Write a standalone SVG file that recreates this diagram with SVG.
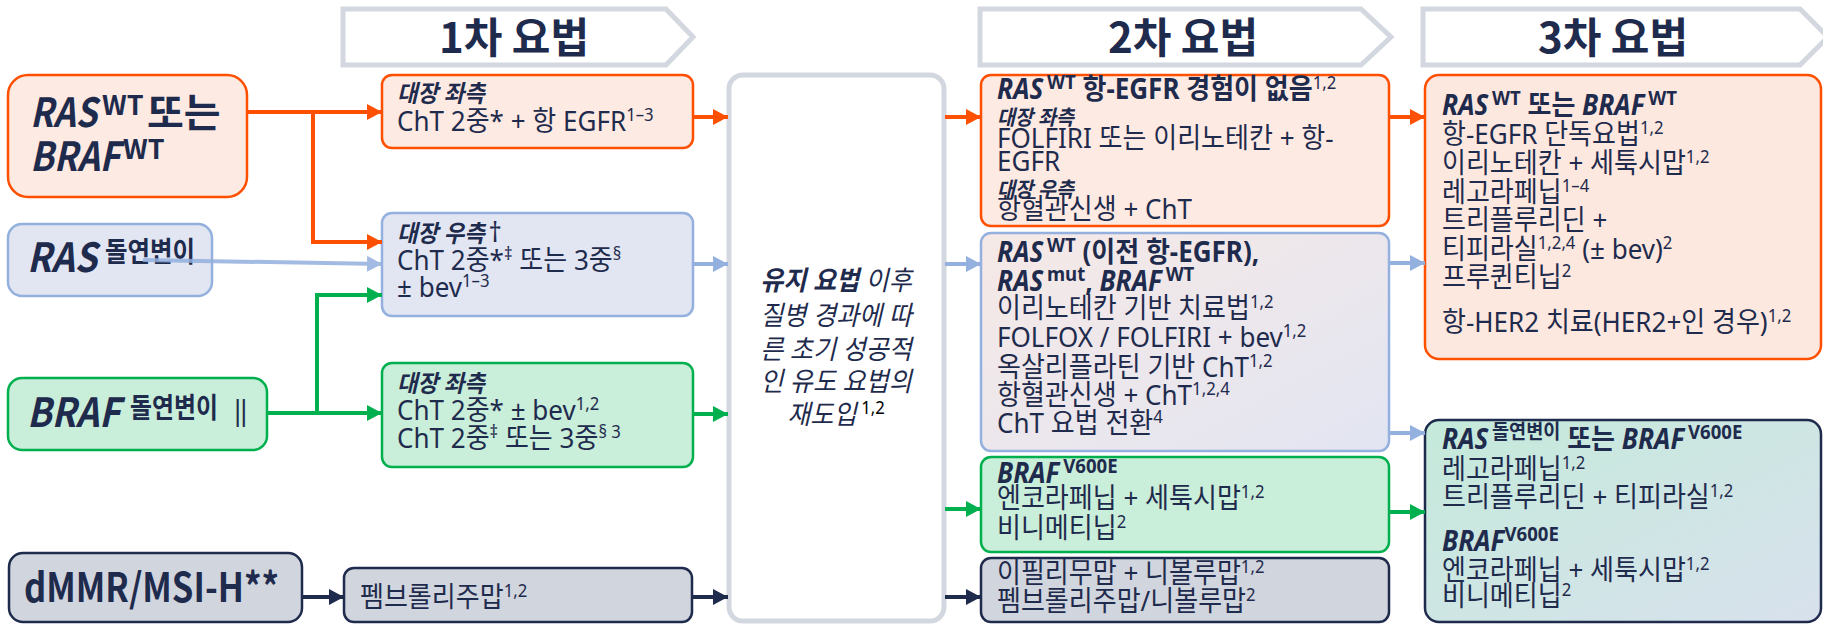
<svg xmlns="http://www.w3.org/2000/svg" width="1823" height="624" viewBox="0 0 1823 624">
<style>
text{font-family:"Noto Sans","Noto Sans CJK KR",sans-serif;fill:#1f2b4d;font-size:28px}
.big{font-family:"Noto Sans CJK KR",sans-serif;font-size:40px;font-weight:700}
.bw{font-family:"Noto Sans CJK KR",sans-serif;font-size:27px;font-weight:700}
.b{font-weight:700}
.sup{font-size:18px}
.bs{font-size:20px;font-weight:700}
.hd{font-size:24px;font-weight:700;font-style:italic}
.hd2{font-size:21px;font-weight:700;font-style:italic}
.h2{font-size:28px;font-weight:700}
.ct{font-size:27px;font-style:italic}
.ttl{font-family:"Noto Sans CJK KR",sans-serif;font-size:42px;font-weight:700}
.c{stroke-width:4;fill:none}
.or{stroke:#fe5000}.bl{stroke:#94b0de}.gr{stroke:#00b04f}.dk{stroke:#1f2b4d}
</style>
<defs>
<marker id="ao" markerUnits="userSpaceOnUse" markerWidth="16" markerHeight="16" refX="15" refY="8" orient="auto"><path d="M0,0 L15,8 L0,16 z" fill="#fe5000"/></marker>
<marker id="ab" markerUnits="userSpaceOnUse" markerWidth="16" markerHeight="16" refX="15" refY="8" orient="auto"><path d="M0,0 L15,8 L0,16 z" fill="#94b0de"/></marker>
<marker id="ag" markerUnits="userSpaceOnUse" markerWidth="16" markerHeight="16" refX="15" refY="8" orient="auto"><path d="M0,0 L15,8 L0,16 z" fill="#00b04f"/></marker>
<marker id="ad" markerUnits="userSpaceOnUse" markerWidth="16" markerHeight="16" refX="15" refY="8" orient="auto"><path d="M0,0 L15,8 L0,16 z" fill="#1f2b4d"/></marker>
<linearGradient id="gblue" x1="0" y1="0" x2="1" y2="1"><stop offset="0" stop-color="#f6e9e6"/><stop offset="1" stop-color="#e2e5f2"/></linearGradient>
<linearGradient id="gteal" x1="0" y1="0" x2="1" y2="1"><stop offset="0" stop-color="#c4eada"/><stop offset="1" stop-color="#d8e1ed"/></linearGradient>
</defs>

<g id="headers">
<g id="h1"><polygon points="343,9 666,9 693,37 666,65 343,65" fill="#fff" stroke="#d3d7df" stroke-width="5"/><text class="ttl" x="514" y="53" text-anchor="middle">1차 요법</text></g>
<g id="h2"><polygon points="980,9 1361,9 1391,37 1361,65 980,65" fill="#fff" stroke="#d3d7df" stroke-width="5"/><text class="ttl" x="1183" y="53" text-anchor="middle">2차 요법</text></g>
<g id="h3"><polygon points="1423,9 1800,9 1828,37 1800,65 1423,65" fill="#fff" stroke="#d3d7df" stroke-width="5"/><text class="ttl" x="1613" y="53" text-anchor="middle">3차 요법</text></g>
</g>

<g id="n_raswt"><rect x="8" y="75" width="239" height="122" rx="20" fill="#fdeae2" stroke="#fe5000" stroke-width="2.5"/>
<text class="big" x="30" y="127" font-style="italic" textLength="67" lengthAdjust="spacingAndGlyphs">RAS</text>
<text class="bw" x="102" y="115">WT</text>
<text class="big" x="147" y="127" font-size="34">또는</text>
<text class="big" x="30" y="171" font-style="italic" textLength="90" lengthAdjust="spacingAndGlyphs">BRAF</text>
<text class="bw" x="123" y="159">WT</text></g>

<g id="n_rasmut"><rect x="8" y="224" width="204" height="72" rx="14" fill="#e2e6f3" stroke="#94b0de" stroke-width="2.5"/>
<text class="big" x="27" y="272" font-style="italic" textLength="70" lengthAdjust="spacingAndGlyphs">RAS</text><text class="b" x="105" y="262" font-size="23" textLength="90" lengthAdjust="spacingAndGlyphs">돌연변이</text></g>

<g id="n_braf"><rect x="8" y="378" width="259" height="72" rx="14" fill="#c9eed9" stroke="#00b04f" stroke-width="2.5"/>
<text class="big" x="27" y="427" font-style="italic" textLength="93" lengthAdjust="spacingAndGlyphs">BRAF</text><text class="b" x="130" y="418" font-size="23" textLength="88" lengthAdjust="spacingAndGlyphs">돌연변이</text><text x="233" y="420" font-size="24">‖</text></g>

<g id="n_dmmr"><rect x="9" y="553" width="293" height="69" rx="14" fill="#d1d5de" stroke="#1f2b4d" stroke-width="2.5"/>
<text class="big" x="24" y="602" textLength="255" lengthAdjust="spacingAndGlyphs">dMMR/MSI-H**</text></g>

<g id="b1_or"><rect x="382" y="75" width="311" height="73" rx="10" fill="#fdeae2" stroke="#fe5000" stroke-width="2.5"/>
<g transform="translate(397 0) scale(0.93 1)">
<text class="hd" x="0" y="102">대장 좌측</text>
<text x="0" y="131">ChT 2중* + 항 EGFR<tspan class="sup" baseline-shift="10">1–3</tspan></text></g></g>

<g id="b1_bl"><rect x="382" y="213" width="311" height="103" rx="10" fill="#e2e6f3" stroke="#94b0de" stroke-width="2.5"/>
<g transform="translate(397 0) scale(0.93 1)">
<text x="0" y="242"><tspan class="hd">대장 우측</tspan><tspan dx="4">†</tspan></text>
<text x="0" y="270">ChT 2중*<tspan class="sup" baseline-shift="10">‡</tspan> 또는 3중<tspan class="sup" baseline-shift="10">§</tspan></text>
<text x="0" y="297">± bev<tspan class="sup" baseline-shift="10">1–3</tspan></text></g></g>

<g id="b1_gr"><rect x="382" y="363" width="311" height="104" rx="10" fill="#c9eed9" stroke="#00b04f" stroke-width="2.5"/>
<g transform="translate(397 0) scale(0.93 1)">
<text class="hd" x="0" y="392">대장 좌측</text>
<text x="0" y="420">ChT 2중* ± bev<tspan class="sup" baseline-shift="10">1,2</tspan></text>
<text x="0" y="448">ChT 2중<tspan class="sup" baseline-shift="10">‡</tspan> 또는 3중<tspan class="sup" baseline-shift="10">§ 3</tspan></text></g></g>

<g id="b1_dk"><rect x="344" y="568" width="348" height="54" rx="10" fill="#d1d5de" stroke="#1f2b4d" stroke-width="2.5"/>
<g transform="translate(360 0) scale(0.93 1)">
<text x="0" y="607">펨브롤리주맙<tspan class="sup" baseline-shift="10">1,2</tspan></text></g></g>

<g id="center"><rect x="729" y="75" width="215" height="546" rx="14" fill="#fff" stroke="#d3d7df" stroke-width="5"/>
<g transform="translate(836 0) scale(0.93 1)">
<text class="ct" x="0" y="290" text-anchor="middle"><tspan class="b">유지 요법</tspan> 이후</text>
<text class="ct" x="0" y="325" text-anchor="middle">질병 경과에 따</text>
<text class="ct" x="0" y="359" text-anchor="middle">른 초기 성공적</text>
<text class="ct" x="0" y="391" text-anchor="middle">인 유도 요법의</text>
<text class="ct" x="0" y="424" text-anchor="middle">재도입<tspan class="sup" font-style="normal" fill="#000" dx="5" baseline-shift="10">1,2</tspan></text></g></g>

<g id="b2_or"><rect x="981" y="75" width="408" height="151" rx="10" fill="#fdeae2" stroke="#fe5000" stroke-width="2.5"/>
<g transform="translate(997 0) scale(0.93 1)">
<text class="h2" x="0" y="99"><tspan font-style="italic">RAS</tspan><tspan class="bs" dx="4" baseline-shift="10">WT</tspan> 항-EGFR 경험이 없음<tspan class="sup" font-weight="400" baseline-shift="10">1,2</tspan></text>
<text class="hd2" x="0" y="125">대장 좌측</text>
<text x="0" y="148">FOLFIRI 또는 이리노테칸 + 항-</text>
<text x="0" y="171">EGFR</text>
<text class="hd2" x="0" y="197">대장 우측</text>
<text x="0" y="219">항혈관신생 + ChT</text></g></g>

<g id="b2_bl"><rect x="981" y="233" width="408" height="218" rx="10" fill="url(#gblue)" stroke="#94b0de" stroke-width="2.5"/>
<g transform="translate(997 0) scale(0.93 1)">
<text class="h2" x="0" y="262"><tspan font-style="italic">RAS</tspan><tspan class="bs" dx="4" baseline-shift="10">WT</tspan> (이전 항-EGFR),</text>
<text class="h2" x="0" y="291"><tspan font-style="italic">RAS</tspan><tspan class="bs" dx="4" baseline-shift="10">mut</tspan>, <tspan font-style="italic">BRAF</tspan><tspan class="bs" dx="4" baseline-shift="10">WT</tspan></text>
<text x="0" y="318">이리노테칸 기반 치료법<tspan class="sup" baseline-shift="10">1,2</tspan></text>
<text x="0" y="347">FOLFOX / FOLFIRI + bev<tspan class="sup" baseline-shift="10">1,2</tspan></text>
<text x="0" y="377">옥살리플라틴 기반 ChT<tspan class="sup" baseline-shift="10">1,2</tspan></text>
<text x="0" y="405">항혈관신생 + ChT<tspan class="sup" baseline-shift="10">1,2,4</tspan></text>
<text x="0" y="433">ChT 요법 전환<tspan class="sup" baseline-shift="10">4</tspan></text></g></g>

<g id="b2_gr"><rect x="981" y="457" width="408" height="95" rx="10" fill="#c9eed9" stroke="#00b04f" stroke-width="2.5"/>
<g transform="translate(997 0) scale(0.93 1)">
<text class="h2" x="0" y="483"><tspan font-style="italic">BRAF</tspan><tspan class="bs" dx="4" baseline-shift="10">V600E</tspan></text>
<text x="0" y="508">엔코라페닙 + 세툭시맙<tspan class="sup" baseline-shift="10">1,2</tspan></text>
<text x="0" y="538">비니메티닙<tspan class="sup" baseline-shift="10">2</tspan></text></g></g>

<g id="b2_dk"><rect x="981" y="558" width="408" height="64" rx="10" fill="#d1d5de" stroke="#1f2b4d" stroke-width="2.5"/>
<g transform="translate(997 0) scale(0.93 1)">
<text x="0" y="583">이필리무맙 + 니볼루맙<tspan class="sup" baseline-shift="10">1,2</tspan></text>
<text x="0" y="611">펨브롤리주맙/니볼루맙<tspan class="sup" baseline-shift="10">2</tspan></text></g></g>

<g id="b3_or"><rect x="1425" y="75" width="396" height="284" rx="14" fill="#fde8df" stroke="#fe5000" stroke-width="2.5"/>
<g transform="translate(1442 0) scale(0.93 1)">
<text class="h2" x="0" y="115"><tspan font-style="italic">RAS</tspan><tspan class="bs" dx="4" baseline-shift="10">WT</tspan> 또는 <tspan font-style="italic">BRAF</tspan><tspan class="bs" dx="4" baseline-shift="10">WT</tspan></text>
<text x="0" y="144">항-EGFR 단독요법<tspan class="sup" baseline-shift="10">1,2</tspan></text>
<text x="0" y="173">이리노테칸 + 세툭시맙<tspan class="sup" baseline-shift="10">1,2</tspan></text>
<text x="0" y="202">레고라페닙<tspan class="sup" baseline-shift="10">1–4</tspan></text>
<text x="0" y="230">트리플루리딘 +</text>
<text x="0" y="259">티피라실<tspan class="sup" baseline-shift="10">1,2,4</tspan> (± bev)<tspan class="sup" baseline-shift="10">2</tspan></text>
<text x="0" y="287">프루퀸티닙<tspan class="sup" baseline-shift="10">2</tspan></text>
<text x="0" y="332">항-HER2 치료(HER2+인 경우)<tspan class="sup" baseline-shift="10">1,2</tspan></text></g></g>

<g id="b3_tl"><rect x="1425" y="420" width="396" height="202" rx="14" fill="url(#gteal)" stroke="#1f2b4d" stroke-width="2.5"/>
<g transform="translate(1442 0) scale(0.93 1)">
<text class="h2" x="0" y="449"><tspan font-style="italic">RAS</tspan><tspan class="bs" font-size="18" dx="4" baseline-shift="10">돌연변이</tspan> 또는 <tspan font-style="italic">BRAF</tspan><tspan class="bs" dx="4" baseline-shift="10">V600E</tspan></text>
<text x="0" y="479">레고라페닙<tspan class="sup" baseline-shift="10">1,2</tspan></text>
<text x="0" y="507">트리플루리딘 + 티피라실<tspan class="sup" baseline-shift="10">1,2</tspan></text>
<text class="h2" x="0" y="551"><tspan font-style="italic">BRAF</tspan><tspan class="bs" baseline-shift="10">V600E</tspan></text>
<text x="0" y="580">엔코라페닙 + 세툭시맙<tspan class="sup" baseline-shift="10">1,2</tspan></text>
<text x="0" y="606">비니메티닙<tspan class="sup" baseline-shift="10">2</tspan></text></g></g>

<g id="connectors">
<path class="c or" d="M247,112 H382" marker-end="url(#ao)"/>
<path class="c or" d="M313,112 V242 H382" marker-end="url(#ao)"/>
<path class="c bl" d="M143,260 L382,264" marker-end="url(#ab)" opacity="0.85"/>
<path class="c gr" d="M267,413 H382" marker-end="url(#ag)"/>
<path class="c gr" d="M317,413 V295 H382" marker-end="url(#ag)"/>
<path class="c dk" d="M302,597 H344" marker-end="url(#ad)"/>
<path class="c or" d="M693,117 H728" marker-end="url(#ao)"/>
<path class="c bl" d="M693,264 H728" marker-end="url(#ab)"/>
<path class="c gr" d="M693,414 H728" marker-end="url(#ag)"/>
<path class="c dk" d="M692,597 H728" marker-end="url(#ad)"/>
<path class="c or" d="M945,117 H981" marker-end="url(#ao)"/>
<path class="c bl" d="M945,264 H981" marker-end="url(#ab)"/>
<path class="c gr" d="M945,509 H981" marker-end="url(#ag)"/>
<path class="c dk" d="M945,597 H981" marker-end="url(#ad)"/>
<path class="c or" d="M1389,117 H1425" marker-end="url(#ao)"/>
<path class="c bl" d="M1389,263 H1425" marker-end="url(#ab)"/>
<path class="c bl" d="M1389,433 H1425" marker-end="url(#ab)"/>
<path class="c gr" d="M1389,512 H1425" marker-end="url(#ag)"/>
</g>
</svg>
